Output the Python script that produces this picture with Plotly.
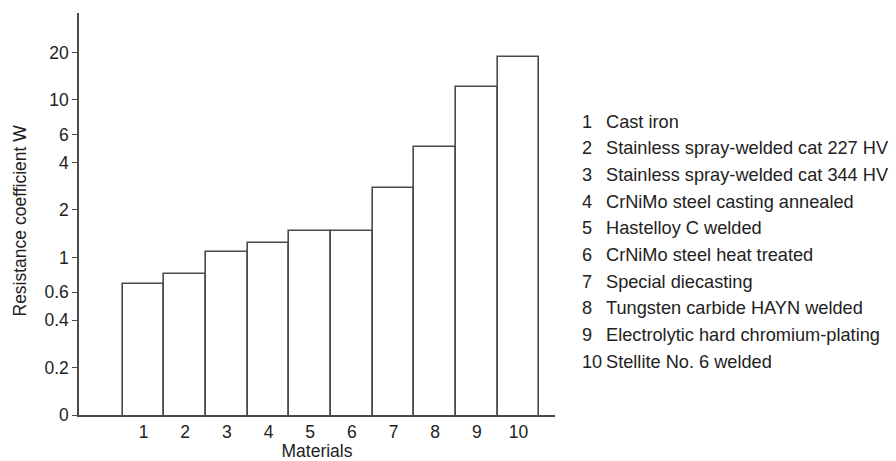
import plotly.graph_objects as go

materials = [1, 2, 3, 4, 5, 6, 7, 8, 9, 10]
resistance_w = [0.676, 0.79, 1.077, 1.24, 1.47, 1.47, 2.76, 5.04, 12.0, 18.8]
material_names = [
    "Cast iron",
    "Stainless spray-welded cat 227 HV",
    "Stainless spray-welded cat 344 HV",
    "CrNiMo steel casting annealed",
    "Hastelloy C welded",
    "CrNiMo steel heat treated",
    "Special diecasting",
    "Tungsten carbide HAYN welded",
    "Electrolytic hard chromium-plating",
    "Stellite No. 6 welded",
]
y_tick_vals = [0.1, 0.2, 0.4, 0.6, 1, 2, 4, 6, 10, 20]
y_tick_text = ["0", "0.2", "0.4", "0.6", "1", "2", "4", "6", "10", "20"]

FONT = "Liberation Sans, Arial, Helvetica, sans-serif"
INK = "#222222"
LINE = "#4a4a4a"
FS = 17.5
FS_LEG = 18.2

fig = go.Figure()
fig.add_trace(go.Bar(
    x=materials,
    y=resistance_w,
    marker=dict(color="white", line=dict(color=LINE, width=1.6)),
    width=1.0,
    hoverinfo="x+y",
))

W, H = 896, 461
ml, mr, mt, mb = 79, 341, 13, 46
plot_h = H - mt - mb
plot_w = W - ml - mr

annotations = []
row0_px = 121.7
row_step = 26.65
for i, (num, name) in enumerate(zip(materials, material_names)):
    ypx = row0_px + i * row_step
    yp = (H - mb - ypx) / plot_h
    annotations.append(dict(
        text=str(num), x=(580 - ml) / plot_w, y=yp, xref="paper", yref="paper",
        xanchor="left", yanchor="middle", showarrow=False,
        font=dict(family=FONT, size=FS_LEG, color=INK),
    ))
    annotations.append(dict(
        text=name, x=(604 - ml) / plot_w, y=yp, xref="paper", yref="paper",
        xanchor="left", yanchor="middle", showarrow=False,
        font=dict(family=FONT, size=FS_LEG, color=INK),
    ))

# y-axis title placed as rotated annotation
annotations.append(dict(
    text="Resistance coefficient W", x=(19.5 - ml) / plot_w, y=0.5, yshift=-7,
    xref="paper", yref="paper", xanchor="center", yanchor="middle",
    textangle=-90, showarrow=False,
    font=dict(family=FONT, size=FS, color=INK),
))

fig.update_layout(
    width=W, height=H,
    margin=dict(l=ml, r=mr, t=mt, b=mb),
    paper_bgcolor="white", plot_bgcolor="white",
    bargap=0,
    showlegend=False,
    font=dict(family=FONT, size=FS, color=INK),
    annotations=annotations,
    xaxis=dict(
        range=[-0.549, 10.877],
        tickmode="array", tickvals=materials, ticktext=[str(m) for m in materials],
        ticks="", showgrid=False, zeroline=False,
        showline=True, linecolor=LINE, linewidth=1.5,
        tickfont=dict(family=FONT, size=FS, color=INK),
        title=dict(text="Materials", font=dict(family=FONT, size=FS, color=INK), standoff=2),
        automargin=False,
    ),
    yaxis=dict(
        type="log",
        range=[-1, 1.551],
        tickmode="array", tickvals=y_tick_vals, ticktext=y_tick_text,
        ticks="outside", ticklen=5, tickwidth=1.2, tickcolor=LINE,
        showgrid=False, zeroline=False,
        showline=True, linecolor=LINE, linewidth=1.5,
        tickfont=dict(family=FONT, size=FS, color=INK),
        automargin=False,
    ),
)

fig.write_html("out.html", config={"displayModeBar": False},
               post_script="document.body.style.margin='0px';")
